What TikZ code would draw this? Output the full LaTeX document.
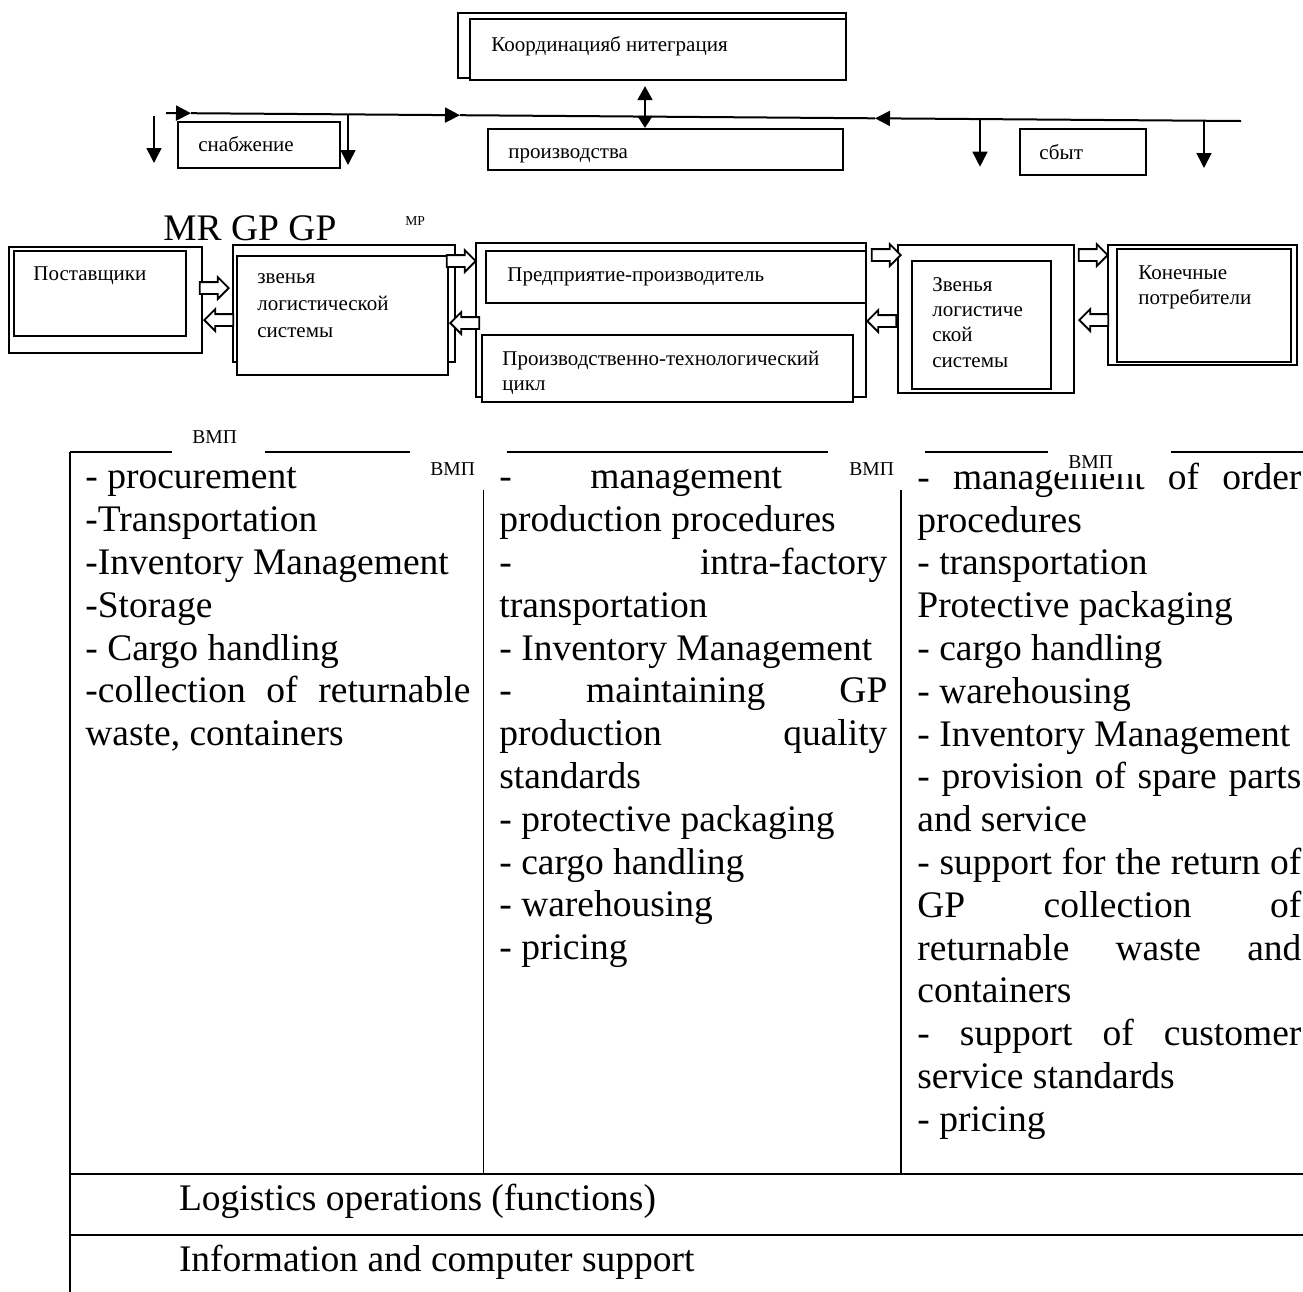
\documentclass[tikz,border=0pt]{standalone}
\usepackage{fontspec}
\setmainfont{Liberation Serif}
\usetikzlibrary{arrows.meta,shapes.arrows,calc}
\newcommand\fsmall{\fontsize{10.5}{12.6}\selectfont}
\newcommand\fbig{\fontsize{18.75}{21.4}\selectfont}
\newcommand\fvmp{\fontsize{9.8}{11.8}\selectfont}
\newcommand\fmp{\fontsize{6.8}{8.2}\selectfont}
\newlength\colw
\newcommand\jl[1]{\makebox[\colw][s]{#1}}
\newcommand\ws{\spaceskip=0pt\xspaceskip=0pt\relax}
\tikzstyle{box}=[draw, line width=1.1pt, fill=white, inner sep=0pt]
\tikzstyle{txt}=[inner sep=0pt, anchor=base west, font=\fsmall]
\tikzstyle{mtxt}=[inner sep=0pt, anchor=north west, align=left]
\tikzstyle{col}=[inner sep=0pt, anchor=north west, align=left, font=\fbig]
\tikzstyle{vmp}=[inner sep=0pt, anchor=base west, font=\fvmp]
\tikzstyle{tip}=[-{Triangle[length=7.5pt, width=7.5pt]}]
\tikzstyle{arr}=[line width=0.8pt, tip]
\tikzstyle{bus}=[line width=1pt]
\tikzstyle{barr}=[draw, line width=0.9pt, fill=white, single arrow, single arrow head extend=2.5pt, inner xsep=0pt, inner ysep=2.5pt, minimum height=14.5pt, minimum width=10pt, anchor=tip]
\tikzstyle{barl}=[barr, shape border rotate=180]
\tikzstyle{tbl}=[line width=0.6pt]

\begin{document}
\begin{tikzpicture}[x=0.5pt, y=-0.5pt]
\useasboundingbox (0, 0) rectangle (1303, 1292);
\node[box, minimum width=194pt, minimum height=32.5pt] at (652, 45.5) (koordB) {};
\node[box, minimum width=188pt, minimum height=30.5pt] at (658, 49.5) (koordF) {};
\node[txt] at (491, 51) (koordT) {Координацияб нитеграция};
\node[box, minimum width=177.5pt, minimum height=20.5pt] at (665.5, 149.5) (proizv) {};
\node[txt] at (508, 158) (proizvT) {производства};
\node[box, minimum width=81pt, minimum height=23pt] at (259, 145) (snab) {};
\node[txt] at (198, 151) (snabT) {снабжение};
\node[box, minimum width=63pt, minimum height=23pt] at (1083, 152) (sbyt) {};
\node[txt] at (1039, 159) (sbytT) {сбыт};

\coordinate (busL) at (166, 113);
\coordinate (t1) at (191, 113.2);
\coordinate (t2) at (460, 115.2);
\coordinate (t3) at (875, 118.3);
\coordinate (busR) at (1241, 121);
\draw[bus, tip] (busL) -- (t1);
\draw[bus, tip] (t1) -- (t2);
\draw[bus] (t2) -- (t3);
\draw[bus, tip] (busR) -- (t3);

\coordinate (d1a) at (154, 116);
\coordinate (d1b) at (154, 163);
\coordinate (d2a) at (348, 114.4);
\coordinate (d2b) at (348, 165);
\coordinate (d3a) at (980, 119.1);
\coordinate (d3b) at (980, 166.7);
\coordinate (d4a) at (1204, 120.7);
\coordinate (d4b) at (1204, 168);
\draw[arr] (d1a) -- (d1b);
\draw[arr] (d2a) -- (d2b);
\draw[arr] (d3a) -- (d3b);
\draw[arr] (d4a) -- (d4b);
\coordinate (dx) at (645, 0);
\draw[line width=0.8pt, {Triangle[length=7pt, width=7.5pt]}-{Triangle[length=6pt, width=7.5pt]}] ($(koordF.south -| dx)+(0, 5)$) -- (proizv.north -| dx);

\node[txt, font=\fbig] at (163, 240) (mrgp) {MR GP GP};
\node[txt, font=\fmp] at (405, 225) (mp) {МР};
\node[box, minimum width=96.5pt, minimum height=53pt] at (105.5, 300) (postO) {};
\node[box, minimum width=86pt, minimum height=42.5pt] at (100, 293.5) (postI) {};
\node[txt] at (33, 280) (postT) {Поставщики};
\node[box, minimum width=111pt, minimum height=58.5pt] at (344, 303.5) (zvB) {};
\node[box, minimum width=105.5pt, minimum height=59.5pt] at (342.5, 315.5) (zvF) {};
\node[mtxt, font={\fontsize{10.5}{13.35}\selectfont}] at (257, 264.6) (zvT) {\strut звенья\\логистической\\системы};
\node[box, minimum width=195pt, minimum height=77pt] at (671, 320) (predB) {};
\node[box, minimum width=190pt, minimum height=26pt] at (676, 277) (predT) {};
\node[txt] at (507, 281) (predTT) {Предприятие-производитель};
\node[box, minimum width=185.5pt, minimum height=33.5pt] at (667.5, 368.5) (cycle) {};
\node[mtxt, font={\fontsize{10.5}{12.5}\selectfont}] at (502, 347.5) (cycleT) {\strut Производственно-технологический\\цикл};
\node[box, minimum width=88pt, minimum height=74pt] at (986, 319) (zv2O) {};
\node[box, minimum width=69.5pt, minimum height=64pt] at (981.5, 325) (zv2I) {};
\node[mtxt, font=\fsmall] at (932, 273.4) (zv2T) {\strut Звенья\\логистиче\\ской\\системы};
\node[box, minimum width=94.5pt, minimum height=60pt] at (1202.5, 305) (konO) {};
\node[box, minimum width=87pt, minimum height=56.5pt] at (1204, 305.5) (konI) {};
\node[mtxt, font={\fontsize{10.5}{12.35}\selectfont}] at (1138, 262) (konT) {\strut Конечные\\потребители};

\node[barr] at (230, 288) (a1) {};
\node[barl] at (203, 320) (a2) {};
\node[barr] at (477, 261) (a3) {};
\node[barl] at (449, 323) (a4) {};
\node[barr] at (902, 255) (a5) {};
\node[barl] at (866, 321) (a6) {};
\node[barr] at (1109, 255) (a7) {};
\node[barl] at (1078, 320) (a8) {};

\draw[tbl] (70, 452) -- (172, 452);
\draw[tbl] (264.5, 452) -- (409.6, 452);
\draw[tbl] (506.6, 452) -- (828, 452);
\draw[tbl] (925, 452) -- (1048, 452);
\draw[tbl] (1171, 452) -- (1303, 452);
\draw[tbl] (70, 452) -- (70, 1292);
\draw[tbl] (483.5, 490) -- (483.5, 1174);
\draw[tbl] (901, 490) -- (901, 1174);
\draw[tbl] (70, 1174) -- (1303, 1174);
\draw[tbl] (70, 1235) -- (1303, 1235);

\node[col, text width=192.5pt] at (85, 458.5) (col1) {\ws\setlength\colw{192.5pt}\strut- procurement\\
-Transportation\\
-Inventory Management\\
-Storage\\
- Cargo handling\\
\jl{-collection of returnable}\\
waste, containers};
\node[col, text width=194pt] at (499, 458.5) (col2) {\ws\setlength\colw{194pt}\strut-\hspace{39.25pt}management\\
production procedures\\
\jl{- intra-factory}\\
transportation\\
- Inventory Management\\
\jl{- maintaining GP}\\
\jl{production quality}\\
standards\\
- protective packaging\\
- cargo handling\\
- warehousing\\
- pricing};
\node[col, text width=192pt] at (917, 459) (col3) {\ws\setlength\colw{192pt}\strut\jl{- management of order}\\
procedures\\
- transportation\\
Protective packaging\\
- cargo handling\\
- warehousing\\
- Inventory Management\\
\jl{- provision of spare parts}\\
and service\\
\jl{- support for the return of}\\
\jl{GP collection of}\\
\jl{returnable waste and}\\
containers\\
\jl{- support of customer}\\
service standards\\
- pricing};

\node[txt, font=\fbig] at (178.6, 1210) (ops) {Logistics operations (functions)};
\node[txt, font=\fbig] at (178.6, 1271.7) (info) {Information and computer support};

\node[vmp] at (192, 443) (vmp1) {ВМП};
\node[vmp] at (430, 475) (vmp2) {ВМП};
\node[vmp] at (849, 475) (vmp3) {ВМП};
\node[vmp, fill=white, inner xsep=4.5pt, inner ysep=2.85pt, text width=37.5pt, align=left] at (1059, 468.3) (vmp4) {ВМП};
\end{tikzpicture}
\end{document}
